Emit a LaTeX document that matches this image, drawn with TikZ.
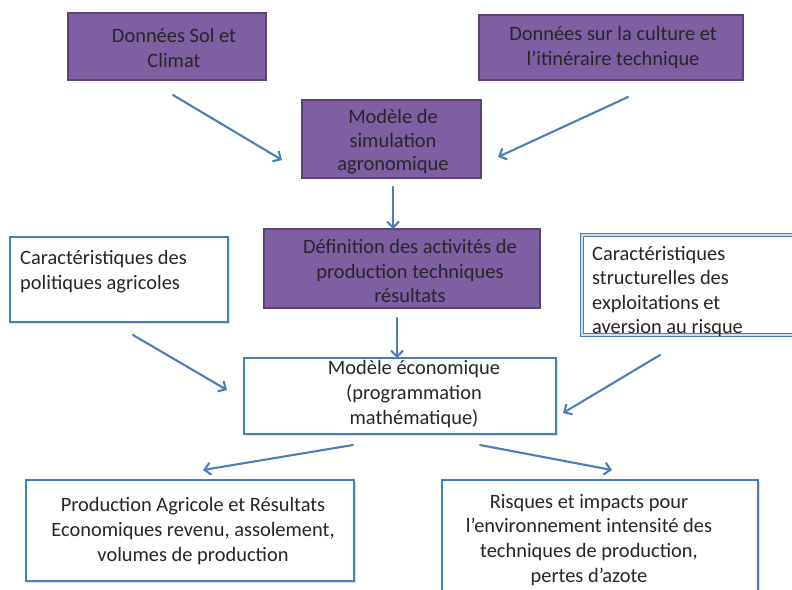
\documentclass[tikz,border=0pt]{standalone}
\usepackage{fontspec}
\setmainfont{Carlito}
\usetikzlibrary{arrows.meta}
\usetikzlibrary{shadows}

\definecolor{violetfond}{HTML}{7E5FA2}
\definecolor{violettrait}{HTML}{5B4279}
\definecolor{bleutrait}{HTML}{4A7EBB}
\definecolor{gristexte}{HTML}{262626}

\begin{document}
\begin{tikzpicture}[x=1bp,y=-1bp,
    boiteviolette/.style={shape=rectangle,draw=violettrait,fill=violetfond,line width=1.3bp,inner sep=0pt},
    boiteblanche/.style={shape=rectangle,draw=bleutrait,fill=white,line width=1.2bp,inner sep=0pt,
        drop shadow={shadow xshift=1.5bp,shadow yshift=-1.5bp,opacity=0.25}},
    ecrit/.style={text=gristexte,font=\fontsize{20.5}{25}\selectfont,align=center,inner sep=0pt},
    fleche/.style={draw=bleutrait,line width=2.1bp,line cap=round,-{Straight Barb[length=6bp,width=12bp]}}]

    \useasboundingbox (0,0) rectangle (792,590);

    \node[boiteviolette,minimum width=198bp,minimum height=67bp] (sol) at (167,46.5) {};
    \node[ecrit] (solT) at (174,48) {Données Sol et\\Climat};
    \node[boiteviolette,minimum width=264bp,minimum height=65bp] (culture) at (611,47.5) {};
    \node[ecrit] (cultureT) at (613,48) {Données sur la culture et\\l’itinéraire technique};
    \node[boiteviolette,minimum width=179bp,minimum height=78bp] (simul) at (391.5,139) {};
    \node[ecrit,font=\fontsize{20.5}{23.5}\selectfont] (simulT) at (393,142) {Modèle de\\simulation\\agronomique};
    \node[boiteviolette,minimum width=276bp,minimum height=79bp] (activ) at (402,268.5) {};
    \node[ecrit] (activT) at (410,271) {Définition des activités de\\production  techniques\\résultats};
    \draw[violettrait,line width=2.5bp] (377,229) -- (410,229);

    \node[boiteblanche,minimum width=218bp,minimum height=85bp] (politiques) at (119,279.5) {};
    \node[ecrit,align=left,anchor=west] (politiquesT) at (20,271.5) {Caractéristiques des\\politiques agricoles};
    \node[boiteblanche,draw=bleutrait,line width=1bp,double=bleutrait!25,double distance=1.3bp,
        minimum width=218bp,minimum height=100bp] (structures) at (691,285) {};
    \node[ecrit,align=left,anchor=west,font=\fontsize{20.5}{24.3}\selectfont] (structuresT) at (592,291.5)
        {Caractéristiques\\structurelles des\\exploitations et\\aversion au risque};

    \node[boiteblanche,minimum width=312bp,minimum height=76bp] (economie) at (400,396) {};
    \node[ecrit] (economieT) at (414,394) {Modèle économique\\(programmation\\mathématique)};
    \draw[bleutrait,line width=2.5bp] (382,358) -- (413,358);

    \node[boiteblanche,minimum width=328bp,minimum height=101bp] (resultats) at (190,530.5) {};
    \node[ecrit] (resultatsT) at (193,531) {Production Agricole et Résultats\\Economiques  revenu, assolement,\\volumes de production};
    \node[boiteblanche,minimum width=316bp,minimum height=120bp] (risques) at (600,540) {};
    \node[ecrit] (risquesT) at (589,540) {Risques et impacts pour\\l’environnement  intensité des\\techniques de production,\\pertes d’azote};
    \draw[bleutrait,line width=2.5bp] (473,480) -- (627,480);

    % bouts des fleches
    \coordinate (solS) at (173,95);
    \coordinate (simulW) at (282,160);
    \coordinate (cultureS) at (628,97);
    \coordinate (simulE) at (498,157);
    \coordinate (simulS) at (393,187);
    \coordinate (activN) at (393,229);
    \coordinate (activS) at (397,318);
    \coordinate (economieN) at (397,358);
    \coordinate (politiquesS) at (133,335);
    \coordinate (economieW) at (227,390);
    \coordinate (structuresS) at (660,355);
    \coordinate (economieE) at (563,413);
    \coordinate (economieSW) at (353,445);
    \coordinate (resultatsN) at (203,470);
    \coordinate (economieSE) at (480,445);
    \coordinate (risquesN) at (612,470);

    \path (solS) edge[fleche] (simulW);
    \path (cultureS) edge[fleche] (simulE);
    \path (simulS) edge[fleche] (activN);
    \path (activS) edge[fleche] (economieN);
    \path (politiquesS) edge[fleche] (economieW);
    \path (structuresS) edge[fleche] (economieE);
    \path (economieSW) edge[fleche] (resultatsN);
    \path (economieSE) edge[fleche] (risquesN);
\end{tikzpicture}
\end{document}
